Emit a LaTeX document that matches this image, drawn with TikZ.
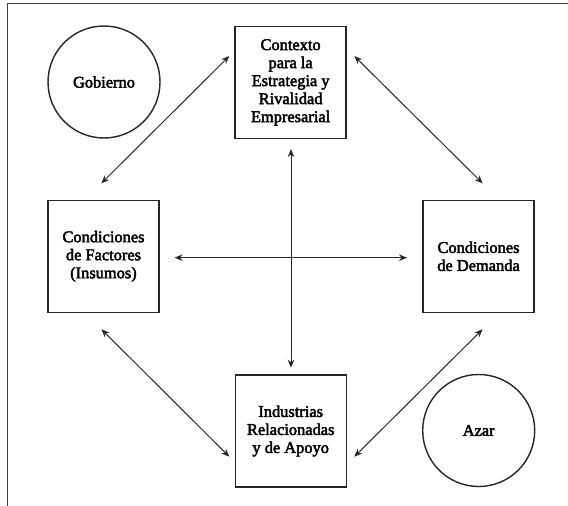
\documentclass[tikz,border=0pt]{standalone}
\usepackage{fontspec}
\setmainfont{Liberation Serif}[BoldFont={Liberation Serif},BoldFeatures={FakeBold=2.6}]
\usetikzlibrary{arrows.meta}
\begin{document}
\begin{tikzpicture}[x=1pt,y=-1pt,
  box/.style={draw=black!85,line width=1.4pt,minimum width=111pt,minimum height=112pt,inner sep=0pt,align=center,
    font=\fontsize{16.4}{18}\selectfont\bfseries},
  circ/.style={draw=black!85,line width=1.4pt,circle,minimum size=112pt,inner sep=0pt,align=center,
    font=\fontsize{16.4}{18}\selectfont\bfseries},
  dbl/.style={{Stealth[length=8pt,width=6.5pt]}-{Stealth[length=8pt,width=6.5pt]},line width=1pt,black!85}]
\useasboundingbox (0,0) rectangle (568,506);
\draw[line width=1pt,black!75] (7,506) -- (7,3) -- (568,3);
\node[box] (ctx) at (290.6,82.4) {Contexto\\para la\\Estrategia y\\Rivalidad\\Empresarial};
\node[box] (fac) at (103.5,256.3) {Condiciones\\de Factores\\(Insumos)};
\node[box] (dem) at (478.5,256.3) {Condiciones\\de Demanda};
\node[box] (ind) at (290.7,431) {Industrias\\Relacionadas\\y de Apoyo};
\node[circ] (gob) at (104,82) {Gobierno};
\node[circ] (azar) at (478.7,430.5) {Azar};
\coordinate (v1) at (291,149);
\coordinate (v2) at (291,367.7);
\coordinate (h1) at (174.6,257.7);
\coordinate (h2) at (407,257.7);
\coordinate (tl1) at (229.3,56);
\coordinate (tl2) at (101.4,183.3);
\coordinate (tr1) at (354.3,56);
\coordinate (tr2) at (482.6,183.3);
\coordinate (bl1) at (101.4,329.3);
\coordinate (bl2) at (229.3,456.7);
\coordinate (br1) at (482.6,329.3);
\coordinate (br2) at (354.3,456.7);
\draw[dbl] (v1) -- (v2);
\draw[dbl] (h1) -- (h2);
\draw[dbl] (tl1) -- (tl2);
\draw[dbl] (tr1) -- (tr2);
\draw[dbl] (bl1) -- (bl2);
\draw[dbl] (br1) -- (br2);
\end{tikzpicture}
\end{document}
